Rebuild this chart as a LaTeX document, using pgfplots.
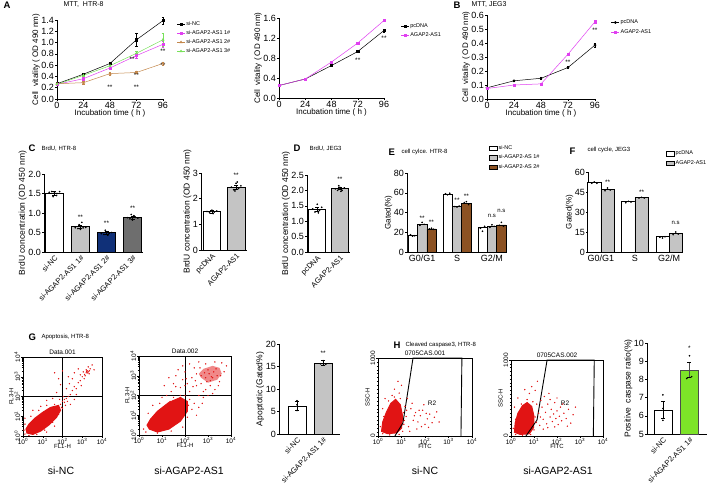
\documentclass[border=0pt]{standalone}
\usepackage{pgfplots}
\pgfplotsset{compat=1.18}
\usepackage{fontspec}
\setmainfont{Liberation Sans}
\definecolor{fcred}{RGB}{225,20,20}
\definecolor{mag}{RGB}{224,64,240}
\definecolor{brn}{RGB}{195,135,75}
\definecolor{grn}{RGB}{120,225,90}
\definecolor{navy}{RGB}{16,48,120}
\definecolor{lgray}{RGB}{196,196,196}
\definecolor{dgray}{RGB}{110,110,110}
\definecolor{ebrown}{RGB}{140,82,35}
\definecolor{lime}{RGB}{125,228,40}
\newcommand{\fs}[1]{\fontsize{#1}{#1}\selectfont}
\newcommand{\dec}[1]{10\textsuperscript{#1}}
\pgfplotsset{
 gp/.style={scale only axis, axis x line*=bottom, axis y line*=left, tick align=outside,
   major tick length=2pt, every tick/.style={black, line width=0.5pt},
   axis line style={line width=0.6pt, -}, /pgf/number format/assume math mode=true,
   ticklabel style={font=\fs{9}, inner sep=1pt}, label style={font=\fs{8}},
   xlabel style={yshift=3pt}, ylabel style={yshift=-3pt}},
 lg/.style={legend style={draw=none, fill=none, font=\fs{5.5}, row sep=0.5pt, legend cell align=left,
   nodes={inner sep=1pt}}, legend image code/.code={\draw[##1,mark repeat=2,mark phase=2] plot coordinates {(0cm,0cm) (0.14cm,0cm) (0.28cm,0cm)};}},
 bl/.style={legend style={draw=none, fill=none, font=\fs{5.5}, row sep=0.5pt, legend cell align=left,
   nodes={inner sep=1pt}}, legend image code/.code={\draw[##1,draw=black,line width=0.4pt] (0cm,-0.08cm) rectangle (0.28cm,0.08cm);}},
 rot/.style={xticklabel style={rotate=45, anchor=north east, font=\fs{7.5}, inner sep=0.5pt}},
 fc/.style={scale only axis, axis line style={line width=0.7pt}, xtick pos=bottom, ytick pos=left,
   tick align=outside, major tick length=2pt, minor tick length=1.2pt, every tick/.style={black},
   xmin=0, xmax=4, xtick={0,1,2,3,4}, xticklabels={\dec{0},\dec{1},\dec{2},\dec{3},\dec{4}},
   minor xtick={0.301,0.477,0.602,0.699,0.778,0.845,0.903,0.954,1.301,1.477,1.602,1.699,1.778,1.845,1.903,1.954,2.301,2.477,2.602,2.699,2.778,2.845,2.903,2.954,3.301,3.477,3.602,3.699,3.778,3.845,3.903,3.954},
   ticklabel style={font=\fs{6.5}, inner sep=0.5pt}, label style={font=\fs{6}},
   title style={font=\fs{6.5}, yshift=-7pt}, xlabel style={yshift=4pt}, ylabel style={yshift=-3pt},
   yticklabel style={rotate=90, anchor=south}},
 dots/.style={only marks, mark=*, mark size=0.6pt, black, forget plot},
 pts/.style={only marks, mark=*, mark size=0.45pt, fcred, mark options={draw=none, fill=fcred}},
}
\begin{document}
\begin{tikzpicture}
\path[use as bounding box] (0pt,0pt) rectangle (709pt,-498pt);
% ---------- letters and titles
\node[font=\bfseries\fs{9.5}, anchor=west] at (0pt,-5pt) {A};
\node[font=\fs{7}, anchor=west] at (60pt,-5pt) {MTT,\ \ HTR-8};
\node[font=\bfseries\fs{9.5}, anchor=west] at (450pt,-5pt) {B};
\node[font=\fs{7}, anchor=west] at (468pt,-5pt) {MTT, JEG3};
\node[font=\bfseries\fs{9.5}, anchor=west] at (25pt,-148pt) {C};
\node[font=\fs{6}, anchor=west] at (38pt,-149pt) {BrdU, HTR-8};
\node[font=\bfseries\fs{9.5}, anchor=west] at (290pt,-148pt) {D};
\node[font=\fs{6}, anchor=west] at (306pt,-149pt) {BrdU, JEG3};
\node[font=\bfseries\fs{9.5}, anchor=west] at (385pt,-152pt) {E};
\node[font=\fs{6}, anchor=west] at (398pt,-152pt) {cell cylce. HTR-8};
\node[font=\bfseries\fs{9.5}, anchor=west] at (566pt,-151pt) {F};
\node[font=\fs{6}, anchor=west] at (584pt,-150pt) {cell cycle, JEG3};
\node[font=\bfseries\fs{9.5}, anchor=west] at (25pt,-337pt) {G};
\node[font=\fs{6}, anchor=west] at (38pt,-337pt) {Apoptosis, HTR-8};
\node[font=\bfseries\fs{9.5}, anchor=west] at (390pt,-345pt) {H};
\node[font=\fs{6}, anchor=west] at (402pt,-345pt) {Cleaved caspase3, HTR-8};
\node[font=\fs{10.5}] at (61pt,-471pt) {si-NC};
\node[font=\fs{10.5}] at (189pt,-471pt) {si-AGAP2-AS1};
\node[font=\fs{10.5}] at (425pt,-471pt) {si-NC};
\node[font=\fs{10.5}] at (558pt,-471pt) {si-AGAP2-AS1};

% ---------- A1
\begin{axis}[gp, lg, at={(57pt,-99pt)}, anchor=south west, width=106pt, height=79pt,
  xmin=0, xmax=96, ymin=0, ymax=1.4, xtick={0,24,48,72,96}, ytick={0,0.2,0.4,0.6,0.8,1.0,1.2,1.4},
  yticklabel style={/pgf/number format/.cd, fixed, fixed zerofill, precision=1},
  xlabel={Incubation time ( h )}, ylabel={Cell\ \ vitality ( OD 490 nm)}, clip=false,
  legend style={at={(1.1,1.02)}, anchor=north west, row sep=1.5pt}]
\addplot[black, line width=0.5pt, mark=square*, mark size=1.1pt, error bars/.cd, y dir=both, y explicit]
  coordinates {(0,0.27)+-(0,0.01) (24,0.44)+-(0,0.02) (48,0.63)+-(0,0.02) (72,1.05)+-(0,0.12) (96,1.39)+-(0,0.06)};
\addlegendentry{si-NC}
\addplot[mag, line width=0.5pt, mark=square*, mark size=1.1pt, error bars/.cd, y dir=both, y explicit]
  coordinates {(0,0.26)+-(0,0.01) (24,0.36)+-(0,0.02) (48,0.55)+-(0,0.02) (72,0.77)+-(0,0.04) (96,0.97)+-(0,0.05)};
\addlegendentry{si-AGAP2-AS1 1\#}
\addplot[brn, line width=0.5pt, mark=triangle*, mark size=1.3pt, error bars/.cd, y dir=both, y explicit]
  coordinates {(0,0.27)+-(0,0.01) (24,0.29)+-(0,0.02) (48,0.45)+-(0,0.02) (72,0.47)+-(0,0.02) (96,0.63)+-(0,0.03)};
\addlegendentry{si-AGAP2-AS1 2\#}
\addplot[grn, line width=0.5pt, mark=triangle*, mark size=1.3pt, error bars/.cd, y dir=both, y explicit]
  coordinates {(0,0.26)+-(0,0.01) (24,0.42)+-(0,0.02) (48,0.59)+-(0,0.02) (72,0.81)+-(0,0.03) (96,1.05)+-(0,0.12)};
\addlegendentry{si-AGAP2-AS1 3\#}
\node[font=\fs{6.5}] at (axis cs:48,0.2) {**};
\node[font=\fs{6.5}] at (axis cs:72,0.2) {**};
\node[font=\fs{6.5}] at (axis cs:72,0.42) {**};
\node[font=\fs{6.5}] at (axis cs:68,0.7) {**};
\node[font=\fs{6.5}] at (axis cs:96,0.85) {**};
\node[font=\fs{6.5}] at (axis cs:96,0.6) {**};
\end{axis}

% ---------- A2
\begin{axis}[gp, lg, at={(279pt,-98pt)}, anchor=south west, width=105pt, height=80pt,
  xmin=0, xmax=96, ymin=0, ymax=1.6, xtick={0,24,48,72,96}, ytick={0,0.4,0.8,1.2,1.6},
  yticklabel style={/pgf/number format/.cd, fixed, fixed zerofill, precision=1},
  xlabel={Incubation time ( h )}, ylabel={Cell\ \ vitality ( OD 490 nm)}, clip=false,
  legend style={at={(1.13,0.97)}, anchor=north west, row sep=2pt}]
\addplot[black, line width=0.5pt, mark=square*, mark size=1.1pt, error bars/.cd, y dir=both, y explicit]
  coordinates {(0,0.25)+-(0,0.01) (24,0.38)+-(0,0.01) (48,0.65)+-(0,0.02) (72,0.93)+-(0,0.02) (96,1.35)+-(0,0.03)};
\addlegendentry{pcDNA}
\addplot[mag, line width=0.5pt, mark=square*, mark size=1.1pt]
  coordinates {(0,0.25) (24,0.38) (48,0.72) (72,1.10) (96,1.55)};
\addlegendentry{AGAP2-AS1}
\node[font=\fs{6.5}] at (axis cs:72,0.75) {**};
\node[font=\fs{6.5}] at (axis cs:96,1.2) {**};
\end{axis}

% ---------- B
\begin{axis}[gp, lg, at={(487pt,-99pt)}, anchor=south west, width=108pt, height=84pt,
  xmin=0, xmax=96, ymin=0, ymax=0.6, xtick={0,24,48,72,96}, ytick={0,0.1,0.2,0.3,0.4,0.5,0.6},
  yticklabel style={/pgf/number format/.cd, fixed, fixed zerofill, precision=1},
  xlabel={Incubation time ( h )}, ylabel={Cell\ \ vitality ( OD 490 nm)}, clip=false,
  legend style={at={(1.12,0.98)}, anchor=north west, row sep=2.5pt}]
\addplot[black, line width=0.5pt, mark=*, mark size=1.1pt, error bars/.cd, y dir=both, y explicit]
  coordinates {(0,0.08)+-(0,0.005) (24,0.13)+-(0,0.005) (48,0.148)+-(0,0.005) (72,0.225)+-(0,0.008) (96,0.385)+-(0,0.015)};
\addlegendentry{pcDNA}
\addplot[mag, line width=0.5pt, mark=square*, mark size=1.1pt]
  coordinates {(0,0.075) (24,0.10) (48,0.108) (72,0.32) (96,0.552)};
\addlegendentry{AGAP2-AS1}
\node[font=\fs{6.5}] at (axis cs:72,0.265) {**};
\node[font=\fs{6.5}] at (axis cs:96,0.49) {**};
\end{axis}

% ---------- C1
\begin{axis}[gp, rot, at={(44pt,-252pt)}, anchor=south west, width=99pt, height=78pt,
  xmin=-0.4, xmax=3.4, ymin=0, ymax=2.0, ytick={0,0.5,1.0,1.5,2.0},
  yticklabel style={/pgf/number format/.cd, fixed, fixed zerofill, precision=1},
  xtick={0,1,2,3}, xticklabels={si-NC, si-AGAP2-AS1 1\#, si-AGAP2-AS1 2\#, si-AGAP2-AS1 3\#},
  major x tick style={draw=none}, ylabel={BrdU concentration (OD 450 nm)}, ylabel style={font=\fs{8.5}}, clip=false]
\addplot[ybar, bar width=0.7, bar shift=0pt, fill=white, draw=black, line width=0.5pt, error bars/.cd, y dir=both, y explicit] coordinates {(0,1.5)+-(0,0.05)};
\addplot[ybar, bar width=0.7, bar shift=0pt, fill=lgray, draw=black, line width=0.5pt, error bars/.cd, y dir=both, y explicit] coordinates {(1,0.65)+-(0,0.05)};
\addplot[ybar, bar width=0.7, bar shift=0pt, fill=navy, draw=black, line width=0.5pt, error bars/.cd, y dir=both, y explicit] coordinates {(2,0.5)+-(0,0.04)};
\addplot[ybar, bar width=0.7, bar shift=0pt, fill=dgray, draw=black, line width=0.5pt, error bars/.cd, y dir=both, y explicit] coordinates {(3,0.88)+-(0,0.05)};
\addplot[dots] coordinates {(-0.2,1.53)(-0.1,1.55)(0,1.52)(0.1,1.5)(0.2,1.55)(-0.05,1.42)(0.08,1.45)};
\addplot[dots] coordinates {(0.8,0.62)(0.9,0.6)(1.0,0.58)(1.1,0.62)(1.2,0.63)(0.95,0.7)(1.05,0.76)};
\addplot[dots] coordinates {(1.8,0.47)(1.9,0.45)(2.0,0.52)(2.1,0.48)(2.2,0.5)(1.95,0.56)(2.05,0.43)};
\addplot[dots] coordinates {(2.8,0.88)(2.9,0.85)(3.0,0.82)(3.1,0.9)(3.2,0.87)(2.95,0.96)(3.05,0.93)};
\node[font=\fs{6.5}] at (axis cs:1,0.9) {**};
\node[font=\fs{6.5}] at (axis cs:2,0.74) {**};
\node[font=\fs{6.5}] at (axis cs:3,1.12) {**};
\end{axis}

% ---------- C2
\begin{axis}[gp, rot, at={(201pt,-250pt)}, anchor=south west, width=46pt, height=77pt,
  xmin=-0.45, xmax=1.45, ymin=0, ymax=3, ytick={0,1,2,3},
  xtick={0,1}, xticklabels={pcDNA, AGAP2-AS1}, major x tick style={draw=none},
  ylabel={BrdU concentration (OD 450 nm)}, ylabel style={font=\fs{8.5}}, clip=false]
\addplot[ybar, bar width=0.72, bar shift=0pt, fill=white, draw=black, line width=0.5pt, error bars/.cd, y dir=both, y explicit] coordinates {(0,1.5)+-(0,0.05)};
\addplot[ybar, bar width=0.72, bar shift=0pt, fill=lgray, draw=black, line width=0.5pt, error bars/.cd, y dir=both, y explicit] coordinates {(1,2.45)+-(0,0.08)};
\addplot[dots] coordinates {(-0.2,1.5)(-0.1,1.45)(0,1.55)(0.1,1.48)(0.2,1.52)(0.05,1.42)};
\addplot[dots] coordinates {(0.8,2.45)(0.9,2.35)(1.0,2.6)(1.1,2.4)(1.2,2.5)(0.95,2.3)(1.05,2.65)};
\node[font=\fs{6.5}] at (axis cs:1,2.9) {**};
\end{axis}

% ---------- D
\begin{axis}[gp, rot, at={(307pt,-252pt)}, anchor=south west, width=43pt, height=77pt,
  xmin=-0.45, xmax=1.45, ymin=0, ymax=2.5, ytick={0,0.5,1.0,1.5,2.0,2.5},
  yticklabel style={/pgf/number format/.cd, fixed, fixed zerofill, precision=1},
  xtick={0,1}, xticklabels={pcDNA, AGAP2-AS1}, major x tick style={draw=none},
  ylabel={BrdU concentration (OD 450 nm)}, ylabel style={font=\fs{8.5}}, clip=false]
\addplot[ybar, bar width=0.75, bar shift=0pt, fill=white, draw=black, line width=0.5pt, error bars/.cd, y dir=both, y explicit] coordinates {(0,1.4)+-(0,0.06)};
\addplot[ybar, bar width=0.75, bar shift=0pt, fill=lgray, draw=black, line width=0.5pt, error bars/.cd, y dir=both, y explicit] coordinates {(1,2.07)+-(0,0.04)};
\addplot[dots] coordinates {(-0.2,1.4)(-0.1,1.3)(0,1.55)(0.1,1.35)(0.2,1.45)(0.05,1.27)};
\addplot[dots] coordinates {(0.8,2.05)(0.9,2.0)(1.0,2.1)(1.1,2.0)(1.2,2.08)(0.95,2.15)(1.05,1.97)};
\node[font=\fs{6.5}] at (axis cs:1,2.35) {**};
\end{axis}

% ---------- E
\begin{axis}[gp, bl, at={(407pt,-252pt)}, anchor=south west, width=100pt, height=79pt,
  xmin=-0.43, xmax=2.43, ymin=0, ymax=80, ytick={0,20,40,60,80},
  xtick={0,1,2}, xticklabels={G0/G1, S, G2/M}, major x tick style={draw=none},
  ylabel={Gated(\%)}, clip=false,
  legend style={at={(0.79,1.39)}, anchor=north west, row sep=2pt}]
\addplot[ybar, bar width=0.27, bar shift=0pt, fill=white, draw=black, line width=0.5pt] coordinates {(-0.27,16.5)(0.73,58.5)(1.73,25)};
\addlegendentry{si-NC}
\addplot[ybar, bar width=0.27, bar shift=0pt, fill=lgray, draw=black, line width=0.5pt] coordinates {(0,28)(1,46)(2,26)};
\addlegendentry{si-AGAP2-AS 1\#}
\addplot[ybar, bar width=0.27, bar shift=0pt, fill=ebrown, draw=black, line width=0.5pt] coordinates {(0.27,23.5)(1.27,49.5)(2.27,27.5)};
\addlegendentry{si-AGAP2-AS 2\#}
\addplot[dots] coordinates {(-0.33,17.5)(-0.27,16)(-0.21,16.5)(0.67,59)(0.73,58)(0.79,59.5)(1.67,24)(1.73,21)(1.79,26)};
\addplot[dots] coordinates {(-0.06,27)(0,30)(0.06,28)(0.94,46)(1,45.5)(1.06,46.5)(1.94,25)(2,27.5)(2.06,26)};
\addplot[dots] coordinates {(0.21,23.5)(0.27,24)(0.33,23)(1.21,50)(1.27,51)(1.33,48)(2.21,27)(2.27,30)(2.33,26)};
\node[font=\fs{6.5}] at (axis cs:0,34) {**};
\node[font=\fs{6.5}] at (axis cs:0.27,30) {**};
\node[font=\fs{6.5}] at (axis cs:1,52) {**};
\node[font=\fs{6.5}] at (axis cs:1.27,56) {**};
\node[font=\fs{6}] at (axis cs:2,37) {n.s};
\node[font=\fs{6}] at (axis cs:2.27,42) {n.s};
\end{axis}

% ---------- F
\begin{axis}[gp, bl, at={(588pt,-252pt)}, anchor=south west, width=95pt, height=80pt,
  xmin=-0.38, xmax=2.41, ymin=0, ymax=60, ytick={0,15,30,45,60},
  xtick={0,1,2}, xticklabels={G0/G1, S, G2/M}, major x tick style={draw=none},
  ylabel={Gated(\%)}, clip=false,
  legend style={at={(0.79,1.3)}, anchor=north west, row sep=2pt}]
\addplot[ybar, bar width=0.39, bar shift=0pt, fill=white, draw=black, line width=0.5pt] coordinates {(-0.195,52)(0.805,37.7)(1.805,11.5)};
\addlegendentry{pcDNA}
\addplot[ybar, bar width=0.39, bar shift=0pt, fill=lgray, draw=black, line width=0.5pt] coordinates {(0.195,47)(1.195,40.7)(2.195,14)};
\addlegendentry{AGAP2-AS1}
\addplot[dots] coordinates {(-0.27,51.5)(-0.195,52.5)(-0.12,51.5)(0.73,37)(0.805,38)(0.88,37.5)(1.73,11)(1.805,10.5)(1.88,11.5)};
\addplot[dots] coordinates {(0.12,46)(0.195,48)(0.27,46.5)(1.12,40.5)(1.195,41)(1.27,40.5)(2.12,13)(2.195,15)(2.27,13.5)};
\node[font=\fs{6.5}] at (axis cs:0.195,52) {**};
\node[font=\fs{6.5}] at (axis cs:1.195,45) {**};
\node[font=\fs{6}] at (axis cs:2.195,22) {n.s};
\end{axis}

% ---------- G1 scatter
\begin{axis}[fc, at={(23pt,-436pt)}, anchor=south west, width=79pt, height=79pt,
  ymin=0, ymax=4, ytick={0,1,2,3,4}, yticklabels={\dec{0},\dec{1},\dec{2},\dec{3},\dec{4}},
  minor ytick={0.301,0.477,0.602,0.699,0.778,0.845,0.903,0.954,1.301,1.477,1.602,1.699,1.778,1.845,1.903,1.954,2.301,2.477,2.602,2.699,2.778,2.845,2.903,2.954,3.301,3.477,3.602,3.699,3.778,3.845,3.903,3.954},
  xlabel={FL1-H}, ylabel={FL3-H}, title={Data.001}]
\addplot[fill=fcred, draw=fcred, line width=1pt] coordinates {(0.2,0.15)(0.5,0.08)(0.9,0.25)(1.3,0.55)(1.7,0.95)(1.9,1.3)(1.8,1.55)(1.4,1.45)(1.0,1.2)(0.6,0.9)(0.3,0.6)(0.15,0.35)} -- cycle;
\addplot[pts] coordinates {(1.9,1.6)(2.0,1.75)(2.1,1.7)(2.2,1.9)(2.05,2.0)(2.3,2.0)(2.4,2.1)(1.85,1.85)(2.15,1.55)(2.5,2.3)(2.6,2.5)(2.7,2.4)(2.8,2.7)(2.9,2.8)(3.0,3.0)(3.1,2.9)(3.2,3.2)(3.25,3.3)(3.3,3.25)(3.35,3.15)(3.4,3.4)(3.2,3.35)(3.05,3.25)(2.9,3.1)(2.6,3.2)(2.3,3.0)(2.5,2.9)(1.9,2.6)(1.6,3.2)(2.0,3.3)(2.2,2.4)(2.7,2.1)(3.5,3.6)(3.6,3.35)(1.7,2.2)(1.2,1.8)(0.9,1.5)(1.5,1.9)(2.4,1.6)(2.6,1.85)(1.6,0.5)(1.2,0.2)(0.1,0.9)(0.5,1.3)(2.8,3.4)(3.15,3.05)(3.3,3.5)(2.95,2.55)(2.35,2.65)(1.8,2.9)(0.1,0.1)(0.3,0.03)(0.7,0.08)(1.1,0.3)(1.5,0.7)(1.8,1.1)(2.0,1.4)(1.6,1.6)(1.2,1.55)(0.8,1.3)(0.4,1.0)(0.1,0.6)(0.05,0.3)(3.28,3.2)(3.22,3.28)(3.36,3.3)(3.12,3.12)(2.1,1.85)(1.95,1.45)(2.25,1.75)};
\addplot[black, line width=0.7pt] coordinates {(2,0)(2,4)};
\addplot[black, line width=0.7pt] coordinates {(0,2)(4,2)};
\end{axis}

% ---------- G2 scatter
\begin{axis}[fc, at={(139pt,-435pt)}, anchor=south west, width=92pt, height=79pt,
  ymin=0, ymax=4, ytick={0,1,2,3,4}, yticklabels={\dec{0},\dec{1},\dec{2},\dec{3},\dec{4}},
  minor ytick={0.301,0.477,0.602,0.699,0.778,0.845,0.903,0.954,1.301,1.477,1.602,1.699,1.778,1.845,1.903,1.954,2.301,2.477,2.602,2.699,2.778,2.845,2.903,2.954,3.301,3.477,3.602,3.699,3.778,3.845,3.903,3.954},
  xlabel={FL1-H}, ylabel={FL3-H}, title={Data.002}]
\addplot[fill=fcred, draw=fcred, line width=1pt] coordinates {(0.45,0.3)(0.8,0.15)(1.3,0.3)(1.8,0.7)(2.1,1.2)(2.1,1.7)(1.8,1.9)(1.3,1.65)(0.8,1.2)(0.5,0.8)(0.35,0.5)} -- cycle;
\addplot[fill=fcred, draw=none, fill opacity=0.5] coordinates {(2.7,2.9)(3.0,2.65)(3.4,2.8)(3.6,3.1)(3.5,3.4)(3.2,3.5)(2.8,3.35)(2.6,3.1)} -- cycle;
\addplot[pts] coordinates {(1.2,2.0)(1.4,2.2)(1.5,2.6)(1.3,2.9)(1.6,3.0)(1.8,2.4)(1.9,2.8)(2.0,3.2)(2.1,2.6)(2.2,2.2)(2.3,2.9)(2.4,3.4)(2.5,2.5)(2.6,2.0)(2.2,1.8)(2.4,1.6)(2.6,1.4)(2.8,1.9)(2.9,2.3)(3.0,2.0)(3.1,2.5)(3.3,2.3)(3.5,2.7)(3.7,3.2)(3.8,3.5)(3.6,3.65)(3.3,3.7)(2.9,3.6)(2.6,3.7)(2.2,3.6)(1.9,3.5)(1.7,3.3)(1.1,2.5)(1.0,1.9)(0.9,1.6)(1.5,1.9)(1.7,1.7)(2.0,2.0)(2.3,1.3)(2.1,0.9)(1.9,0.4)(2.5,1.0)(0.4,1.1)(0.6,1.5)(0.2,0.3)(0.3,0.15)(1.4,0.2)(2.7,2.6)(2.5,3.1)(3.2,2.1)(3.4,3.0)(2.8,2.2)(2.0,2.5)(1.8,2.0)(2.7,3.0)(3.0,3.3)(3.15,2.95)(2.35,2.45)(1.6,2.45)(2.05,2.85)(2.45,2.75)(2.65,3.4)(3.55,3.0)(3.45,2.5)(1.35,1.7)(0.8,0.1)(2.15,1.5)(2.75,1.6)(2.9,2.9)(3.05,3.1)(3.25,3.2)(3.1,2.75)(2.85,3.15)(3.35,3.35)(2.95,2.7)(3.2,2.9)};
\addplot[black, line width=0.7pt] coordinates {(2,0)(2,4)};
\addplot[black, line width=0.7pt] coordinates {(0,2)(4,2)};
\end{axis}

% ---------- G bar
\begin{axis}[gp, rot, at={(279pt,-434pt)}, anchor=south west, width=61pt, height=90pt,
  xmin=-0.69, xmax=1.65, ymin=0, ymax=20, ytick={0,5,10,15,20},
  xtick={0,1}, xticklabels={si-NC, si-AGAP2-AS1 1\#}, major x tick style={draw=none},
  ylabel={Apoptotic (Gated\%)}, ylabel style={font=\fs{8.5}}, clip=false]
\addplot[ybar, bar width=0.69, bar shift=0pt, fill=white, draw=black, line width=0.5pt, error bars/.cd, y dir=both, y explicit] coordinates {(0,6.2)+-(0,1.0)};
\addplot[ybar, bar width=0.69, bar shift=0pt, fill=lgray, draw=black, line width=0.5pt, error bars/.cd, y dir=both, y explicit] coordinates {(1,15.8)+-(0,0.5)};
\addplot[dots] coordinates {(0,7.4)(0,6.5)(0,5.2)};
\addplot[dots] coordinates {(1,16.3)(0.9,15.6)(1.1,15.5)};
\node[font=\fs{6.5}] at (axis cs:1,18) {**};
\end{axis}

% ---------- H1 scatter
\begin{axis}[fc, at={(378pt,-436pt)}, anchor=south west, width=94pt, height=78pt,
  ymin=0, ymax=1000, ytick={0,1000}, yticklabels={0,1000}, minor y tick num=19,
  xlabel={FITC}, ylabel={SSC-H}, title={0705CAS.001}, clip=false]
\addplot[fill=fcred, draw=fcred, line width=1pt] coordinates {(0.15,60)(0.4,30)(0.8,40)(1.0,100)(1.05,250)(0.95,400)(0.75,470)(0.55,420)(0.35,300)(0.2,180)} -- cycle;
\addplot[pts] coordinates {(1.1,150)(1.2,250)(1.3,120)(1.4,350)(1.5,200)(1.6,300)(1.7,180)(1.8,260)(1.9,330)(2.0,150)(2.1,220)(2.2,280)(2.3,170)(2.4,240)(1.45,420)(1.65,90)(1.95,400)(2.15,110)(2.5,310)(1.25,480)(0.9,550)(0.7,600)(1.0,650)(0.6,520)(0.85,700)(1.15,380)(1.55,260)(1.75,330)(2.05,290)(0.3,480)(0.2,350)(1.35,60)(2.6,180)(1.85,120)(0.1,120)(0.2,30)(0.5,15)(0.9,20)(1.05,60)(1.08,300)(0.95,480)(0.7,500)(0.45,450)(0.25,250)(1.12,200)(1.22,330)};
\addplot[black, line width=0.9pt] coordinates {(0.72,0)(1.06,167)(1.28,590)(1.49,1000)(3.57,1000)(3.53,0)};
\node[font=\fs{6.5}] at (axis cs:2.3,423) {R2};
\end{axis}

% ---------- H2 scatter
\begin{axis}[fc, at={(511pt,-436pt)}, anchor=south west, width=92pt, height=76pt,
  ymin=0, ymax=1000, ytick={0,1000}, yticklabels={0,1000}, minor y tick num=19,
  xlabel={FITC}, ylabel={SSC-H}, title={0705CAS.002}, clip=false]
\addplot[fill=fcred, draw=fcred, line width=1pt] coordinates {(0.15,50)(0.4,20)(0.8,30)(0.98,110)(1.0,260)(0.9,390)(0.7,440)(0.5,400)(0.3,300)(0.18,170)} -- cycle;
\addplot[pts] coordinates {(1.1,180)(1.2,300)(1.25,140)(1.35,380)(1.4,220)(1.5,310)(1.55,160)(1.6,420)(1.7,250)(1.75,350)(1.8,190)(1.85,290)(1.9,440)(1.95,230)(2.0,330)(2.05,150)(2.1,260)(2.15,380)(2.2,200)(2.3,300)(2.4,230)(2.5,350)(2.6,170)(2.7,280)(1.3,470)(1.45,520)(1.65,560)(1.05,600)(0.9,650)(0.8,560)(1.15,720)(0.6,610)(1.4,90)(1.6,110)(1.9,120)(2.25,420)(2.8,380)(2.45,130)(1.7,480)(2.0,500)(0.3,500)(0.15,380)(1.12,420)(1.28,250)(0.1,100)(0.2,20)(0.5,10)(0.85,20)(1.0,80)(1.05,250)(0.95,450)(0.7,480)(0.45,420)(0.2,220)};
\addplot[black, line width=0.9pt] coordinates {(0.65,0)(1.13,210)(1.35,605)(1.57,1000)(3.62,1000)(3.58,0)};
\node[font=\fs{6.5}] at (axis cs:2.35,434) {R2};
\end{axis}

% ---------- H bar
\begin{axis}[gp, rot, at={(647pt,-434pt)}, anchor=south west, width=60pt, height=91pt,
  xmin=-0.6, xmax=1.66, ymin=5, ymax=10, ytick={5,6,7,8,9,10},
  xtick={0,1}, xticklabels={si-NC, si-AGAP2-AS1 1\#}, major x tick style={draw=none},
  ylabel={Positive\ \ caspase ratio(\%)}, ylabel style={font=\fs{8.5}}, clip=false]
\addplot[ybar, bar width=0.68, bar shift=0pt, fill=white, draw=black, line width=0.5pt, error bars/.cd, y dir=both, y explicit] coordinates {(0,6.33)+-(0,0.47)};
\addplot[ybar, bar width=0.68, bar shift=0pt, fill=lime, draw=black!70, line width=0.5pt, error bars/.cd, y dir=both, y explicit] coordinates {(1,8.52)+-(0,0.42)};
\addplot[dots] coordinates {(0,7.15)(0,6.4)(0,5.75)};
\addplot[dots] coordinates {(1,9.3)(0.9,8.05)(1.08,8.15)};
\node[font=\fs{6.5}] at (axis cs:1,9.72) {*};
\end{axis}
\end{tikzpicture}
\end{document}
